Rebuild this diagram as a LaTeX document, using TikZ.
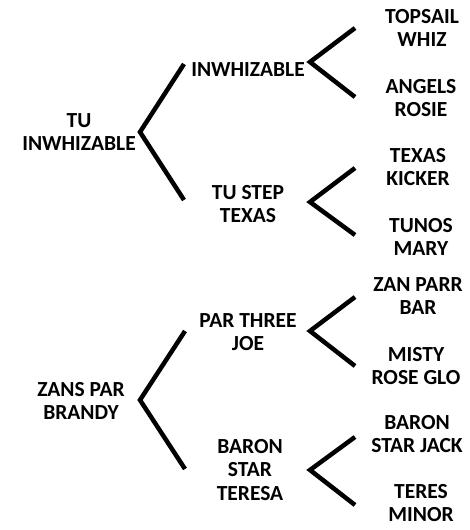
\documentclass[tikz,border=0pt]{standalone}
\usepackage{fontspec}
\setmainfont{Carlito}[BoldFont={Carlito Bold}]
\begin{document}
\begin{tikzpicture}[x=1pt, y=-1pt,
    horse/.style={align=center, inner sep=0pt,
      font=\fontsize{21.5}{23.5}\selectfont\bfseries},
    fork/.style={line width=4.5pt}]
  \useasboundingbox (0,0) rectangle (470,530);
  % upper pedigree
  \node[horse] (tuinw) at (79,132) {TU\\INWHIZABLE};
  \node[horse] (inw) at (248,70) {INWHIZABLE};
  \node[horse] (tustep) at (248,204) {TU STEP\\TEXAS};
  \node[horse] (topsail) at (422,28) {TOPSAIL\\WHIZ};
  \node[horse] (angels) at (421,98) {ANGELS\\ROSIE};
  \node[horse] (texkick) at (418,167) {TEXAS\\KICKER};
  \node[horse] (tunos) at (421,237) {TUNOS\\MARY};
  % lower pedigree
  \node[horse] (zans) at (81,401) {ZANS PAR\\BRANDY};
  \node[horse] (parthree) at (248,332) {PAR THREE\\JOE};
  \node[horse] (baronst) at (250,470) {BARON\\STAR\\TERESA};
  \node[horse] (zanparr) at (418,296) {ZAN PARR\\BAR};
  \node[horse] (misty) at (416,366) {MISTY\\ROSE GLO};
  \node[horse] (baronjack) at (417,434) {BARON\\STAR JACK};
  \node[horse] (teres) at (421,503) {TERES\\MINOR};
  % fork points
  \coordinate (f1) at (140,132);
  \coordinate (f1a) at (184,64);
  \coordinate (f1b) at (184,200);
  \coordinate (f2) at (310,62);
  \coordinate (f2a) at (355,28);
  \coordinate (f2b) at (355,97);
  \coordinate (f3) at (310,202);
  \coordinate (f3a) at (355,168);
  \coordinate (f3b) at (355,235);
  \coordinate (f4) at (140,400);
  \coordinate (f4a) at (185,331);
  \coordinate (f4b) at (185,469);
  \coordinate (f5) at (310,331);
  \coordinate (f5a) at (355,297);
  \coordinate (f5b) at (355,366);
  \coordinate (f6) at (310,470);
  \coordinate (f6a) at (355,437);
  \coordinate (f6b) at (355,505);
  % forks
  \foreach \p in {f1,f2,f3,f4,f5,f6}
    \draw[fork] (\p a) -- (\p) -- (\p b);
\end{tikzpicture}
\end{document}
